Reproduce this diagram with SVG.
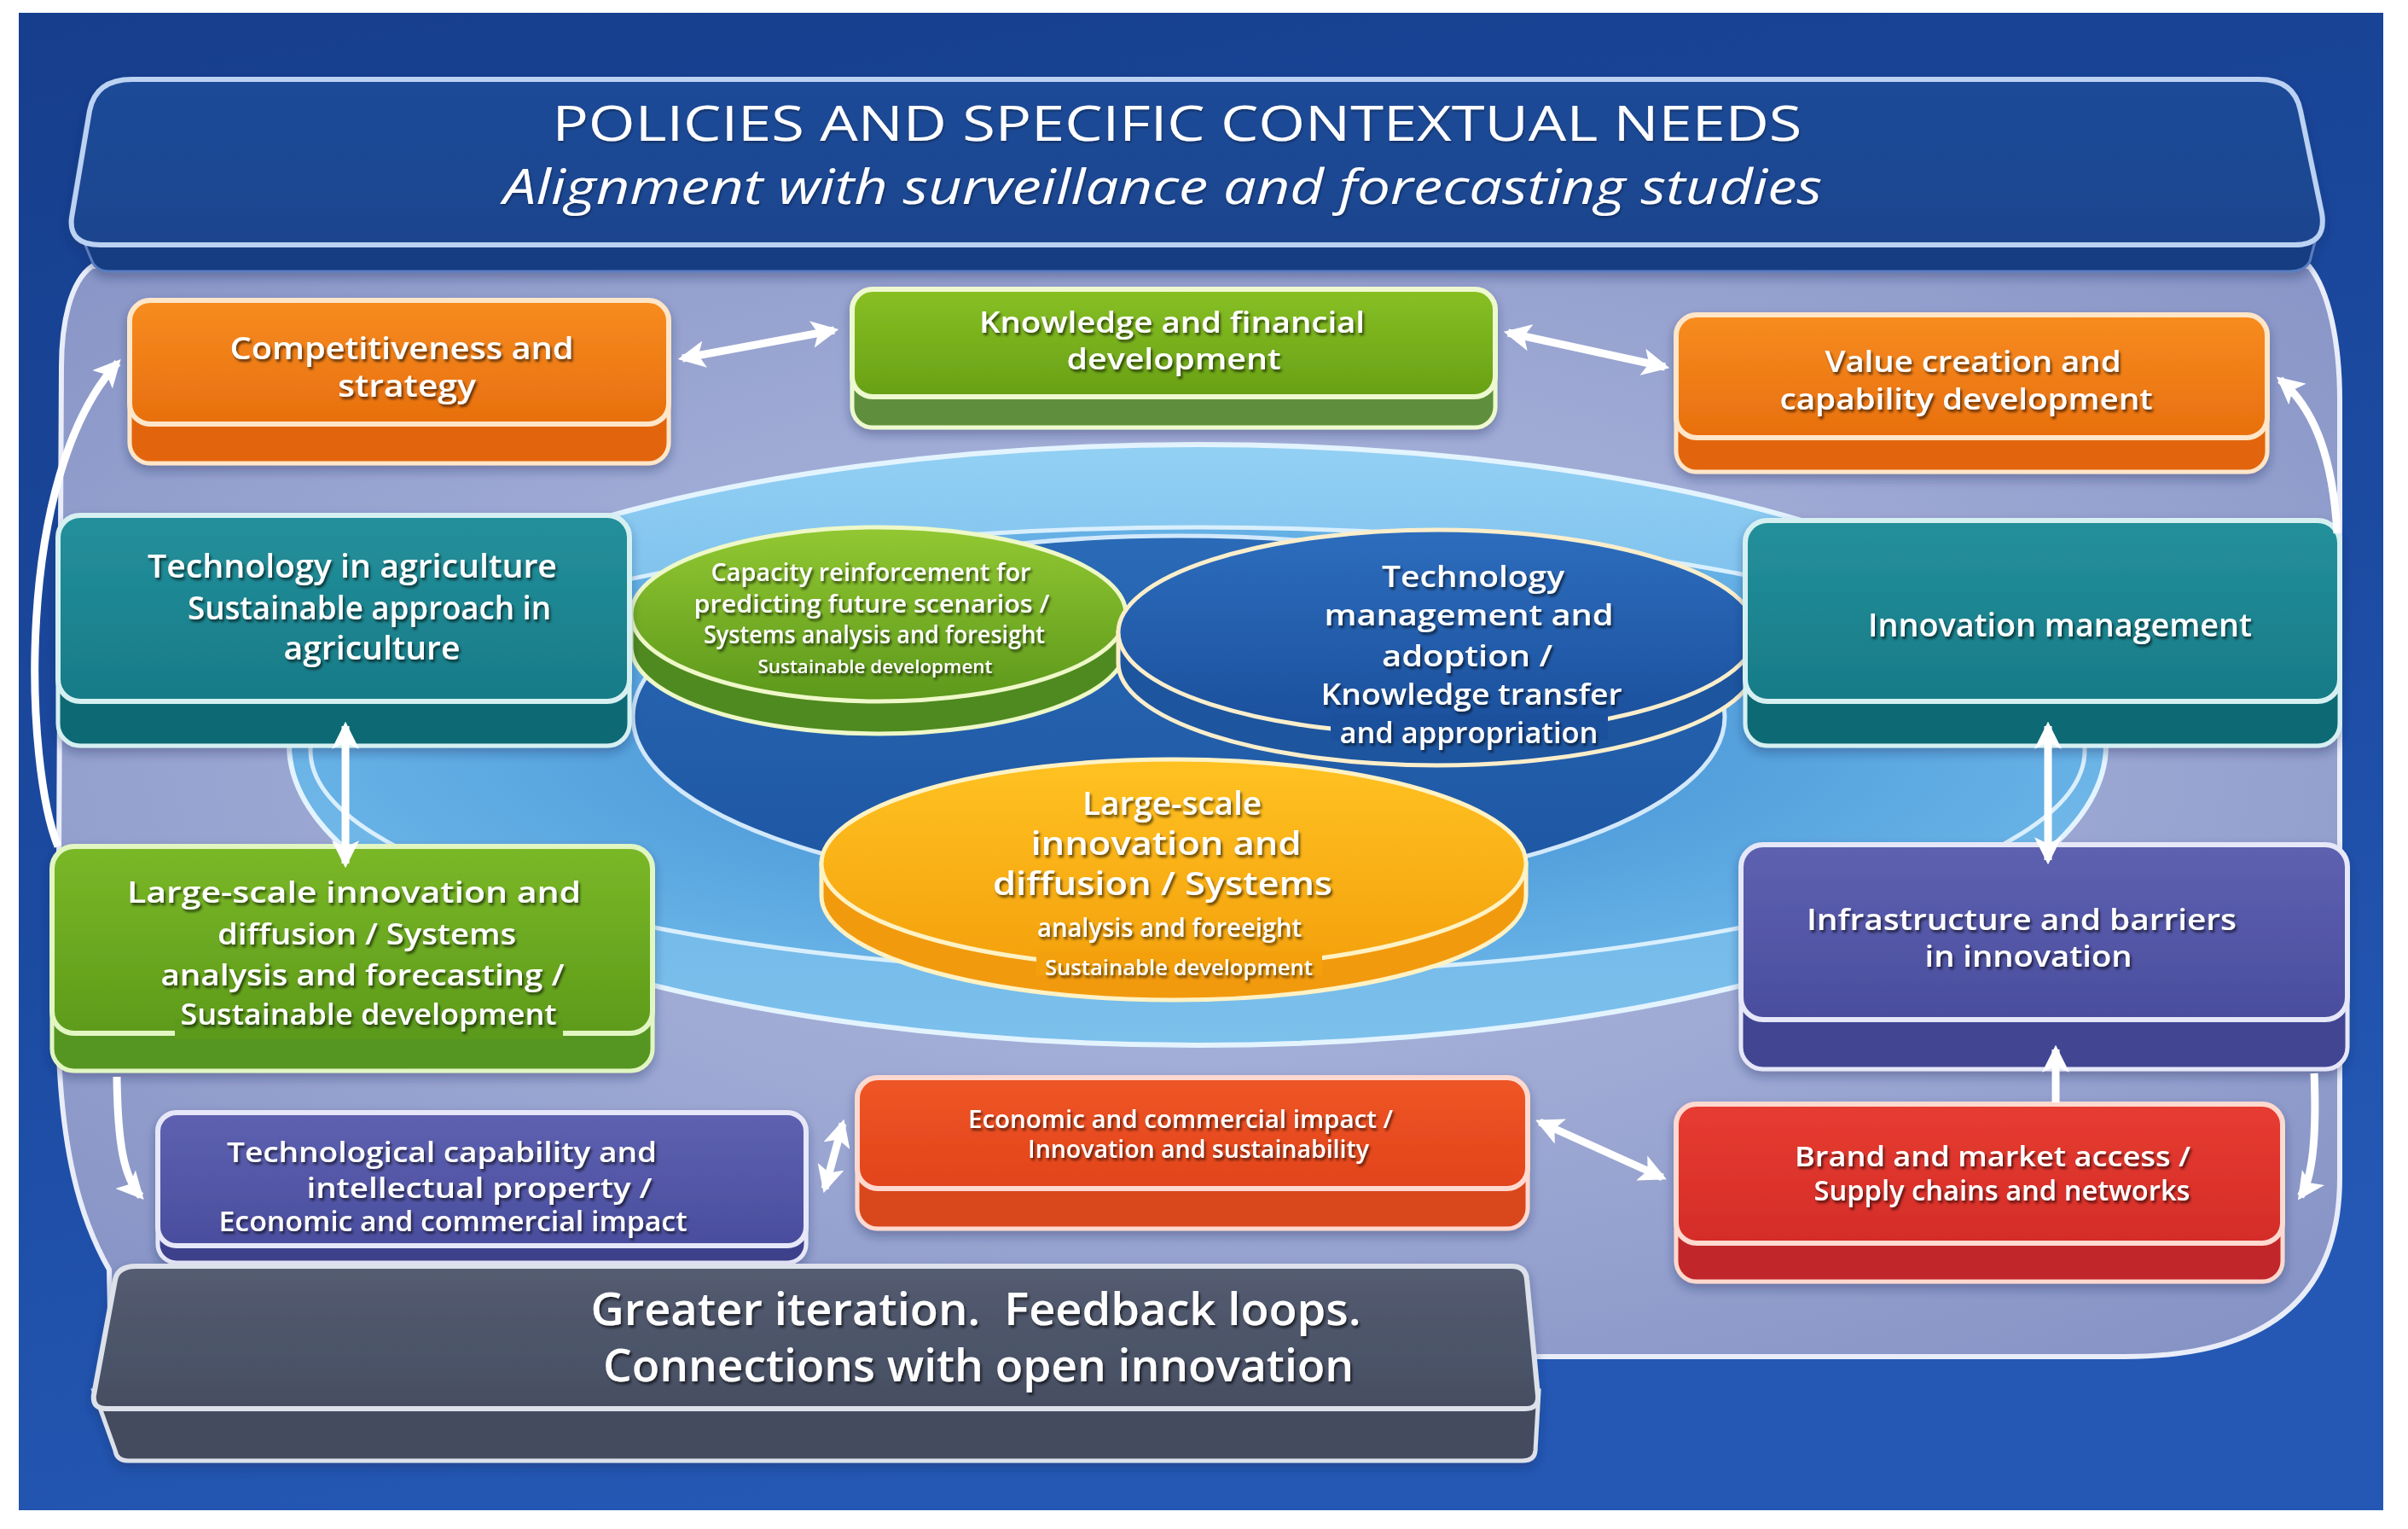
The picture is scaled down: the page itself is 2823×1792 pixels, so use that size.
<svg xmlns="http://www.w3.org/2000/svg" width="2823" height="1792" viewBox="0 0 2823 1792">
<defs>
<style>
.t{font-family:"Open Sans","Noto Sans","Liberation Sans",sans-serif;font-weight:600;fill:#ffffff;text-anchor:middle;filter:url(#ts);}
.th{font-family:"Open Sans","Noto Sans","Liberation Sans",sans-serif;font-weight:400;fill:#ffffff;text-anchor:middle;filter:url(#tsl);}
.arrow{fill:none;stroke:#ffffff;stroke-width:9;stroke-linecap:butt;}
</style>
<filter id="ts" x="-5%" y="-30%" width="110%" height="170%"><feDropShadow dx="2" dy="3" stdDeviation="1.6" flood-color="#000000" flood-opacity="0.6"/></filter>
<filter id="tsl" x="-5%" y="-30%" width="110%" height="170%"><feDropShadow dx="1" dy="2" stdDeviation="1.5" flood-color="#000000" flood-opacity="0.35"/></filter>
<filter id="bs" x="-10%" y="-10%" width="120%" height="130%"><feDropShadow dx="0" dy="6" stdDeviation="6" flood-color="#1b2a5a" flood-opacity="0.35"/></filter>
<marker id="ah" viewBox="0 0 30 30" refX="25" refY="15" markerWidth="32" markerHeight="32" markerUnits="userSpaceOnUse" orient="auto-start-reverse"><path d="M0,0 L30,15 L0,30 L7,15 z" fill="#ffffff"/></marker>
<linearGradient id="bgG" x1="0" y1="0" x2="0.3" y2="1"><stop offset="0" stop-color="#163e8c"/><stop offset="0.6" stop-color="#1c4ba2"/><stop offset="1" stop-color="#2458b4"/></linearGradient>
<radialGradient id="panelG" cx="0.5" cy="0.45" r="0.7"><stop offset="0" stop-color="#b5bee2"/><stop offset="1" stop-color="#8693c5"/></radialGradient>
<linearGradient id="e1G" x1="0" y1="0" x2="0" y2="1"><stop offset="0" stop-color="#93d0f4"/><stop offset="0.5" stop-color="#6ab3e6"/><stop offset="1" stop-color="#7cc0ec"/></linearGradient>
<radialGradient id="e2G" cx="0.5" cy="0.5" r="0.55"><stop offset="0" stop-color="#3a88cf"/><stop offset="1" stop-color="#6ab5e8"/></radialGradient>
<linearGradient id="e3G" x1="0" y1="0" x2="0" y2="1"><stop offset="0" stop-color="#2a6ab6"/><stop offset="1" stop-color="#1d55a2"/></linearGradient>
<linearGradient id="hdG" x1="0" y1="0" x2="0" y2="1"><stop offset="0" stop-color="#1e4b98"/><stop offset="1" stop-color="#1a448e"/></linearGradient>
<linearGradient id="orG" x1="0" y1="0" x2="0" y2="1"><stop offset="0" stop-color="#f78c20"/><stop offset="1" stop-color="#e86f0e"/></linearGradient>
<linearGradient id="grG" x1="0" y1="0" x2="0" y2="1"><stop offset="0" stop-color="#88c024"/><stop offset="1" stop-color="#68a016"/></linearGradient>
<linearGradient id="tlG" x1="0" y1="0" x2="0" y2="1"><stop offset="0" stop-color="#23909b"/><stop offset="1" stop-color="#177b87"/></linearGradient>
<linearGradient id="g2G" x1="0" y1="0" x2="0" y2="1"><stop offset="0" stop-color="#7ab827"/><stop offset="1" stop-color="#5e9b1b"/></linearGradient>
<linearGradient id="puG" x1="0" y1="0" x2="0" y2="1"><stop offset="0" stop-color="#5e61b0"/><stop offset="1" stop-color="#4a4d9e"/></linearGradient>
<linearGradient id="roG" x1="0" y1="0" x2="0" y2="1"><stop offset="0" stop-color="#ef5626"/><stop offset="1" stop-color="#e2431a"/></linearGradient>
<linearGradient id="rdG" x1="0" y1="0" x2="0" y2="1"><stop offset="0" stop-color="#e73c31"/><stop offset="1" stop-color="#d42c28"/></linearGradient>
<linearGradient id="gyG" x1="0" y1="0" x2="0" y2="1"><stop offset="0" stop-color="#545c71"/><stop offset="1" stop-color="#464e62"/></linearGradient>
<linearGradient id="dgG" x1="0" y1="0" x2="0" y2="1"><stop offset="0" stop-color="#92c832"/><stop offset="1" stop-color="#5c981b"/></linearGradient>
<linearGradient id="dbG" x1="0" y1="0" x2="0" y2="1"><stop offset="0" stop-color="#2d6dbd"/><stop offset="1" stop-color="#1a4f9c"/></linearGradient>
<linearGradient id="doG" x1="0" y1="0" x2="0" y2="1"><stop offset="0" stop-color="#ffc222"/><stop offset="1" stop-color="#f4a10c"/></linearGradient>
</defs>

<rect width="2823" height="1792" fill="#ffffff"/>
<rect x="22" y="15" width="2772" height="1755" fill="url(#bgG)"/>

<g id="panel">
<path d="M108,312 C82,330 72,380 72,430 L68,1200 C70,1350 95,1430 128,1488 L130,1590 L2490,1590 Q2743,1590 2743,1380 L2743,470 C2743,400 2730,340 2707,312 Z" fill="url(#panelG)" stroke="#e9edf9" stroke-width="6"/>
</g>

<g id="rings">
<ellipse cx="1404" cy="873" rx="1065" ry="352" fill="url(#e1G)" stroke="#e3f4ff" stroke-width="6"/>
<ellipse cx="1404" cy="880" rx="1040" ry="262" fill="url(#e2G)" stroke="#d9effd" stroke-width="5"/>
<ellipse cx="1382" cy="840" rx="640" ry="212" fill="url(#e3G)" stroke="#d2e8fb" stroke-width="5"/>
</g>

<g id="header" filter="url(#bs)">
<path d="M92,268 L2718,268 L2708,306 Q2702,318 2684,318 L128,318 Q112,318 107,304 Z" fill="#163d82" stroke="#5a7cc0" stroke-width="3"/>
<path d="M155,93 L2648,93 Q2690,93 2697,130 L2722,250 Q2728,287 2690,287 L118,287 Q80,287 84,255 L105,130 Q112,93 155,93 Z" fill="url(#hdG)" stroke="#bcd2f3" stroke-width="6"/>
<text class="th" x="1380" y="165" font-size="57" textLength="1465" lengthAdjust="spacingAndGlyphs">POLICIES AND SPECIFIC CONTEXTUAL NEEDS</text>
<text class="th" x="1363" y="239" font-size="57" font-style="italic" font-weight="600" textLength="1546" lengthAdjust="spacingAndGlyphs">Alignment with surveillance and forecasting studies</text>
</g>

<g id="disk-capacity">
<path d="M740,720 L740,758 A290,102 0 0 0 1320,758 L1320,720 Z" fill="#4f8a20" stroke="#eef8c8" stroke-width="5"/>
<ellipse cx="1030" cy="720" rx="290" ry="102" fill="url(#dgG)" stroke="#eef8c8" stroke-width="5"/>
<text class="t" x="1021" y="681" font-size="28" textLength="375" lengthAdjust="spacingAndGlyphs">Capacity reinforcement for</text>
<text class="t" x="1022" y="718" font-size="28" textLength="417" lengthAdjust="spacingAndGlyphs">predicting future scenarios /</text>
<text class="t" x="1025" y="754" font-size="28" textLength="400" lengthAdjust="spacingAndGlyphs">Systems analysis and foresight</text>
<text class="t" x="1026" y="789" font-size="21" textLength="275" lengthAdjust="spacingAndGlyphs">Sustainable development</text>
</g>

<g id="disk-technology">
<path d="M1311,741 L1311,777 A374,120 0 0 0 2059,777 L2059,741 Z" fill="#1d559f" stroke="#fbeecb" stroke-width="5"/>
<ellipse cx="1685" cy="741" rx="374" ry="120" fill="url(#dbG)" stroke="#fbeecb" stroke-width="5"/>
<rect x="1560" y="838" width="325" height="30" fill="#1b509d"/>
<text class="t" x="1727" y="688" font-size="34" textLength="214" lengthAdjust="spacingAndGlyphs">Technology</text>
<text class="t" x="1722" y="733" font-size="34" textLength="339" lengthAdjust="spacingAndGlyphs">management and</text>
<text class="t" x="1720" y="781" font-size="34" textLength="200" lengthAdjust="spacingAndGlyphs">adoption /</text>
<text class="t" x="1725" y="826" font-size="34" textLength="353" lengthAdjust="spacingAndGlyphs">Knowledge transfer</text>
<text class="t" x="1722" y="871" font-size="34" textLength="303" lengthAdjust="spacingAndGlyphs">and appropriation</text>
</g>

<g id="disk-largescale">
<path d="M963,1012 L963,1050 A413,122 0 0 0 1789,1050 L1789,1012 Z" fill="#f29a0e" stroke="#fff2c4" stroke-width="5"/>
<ellipse cx="1376" cy="1012" rx="413" ry="122" fill="url(#doG)" stroke="#fff2c4" stroke-width="5"/>
<rect x="1215" y="1115" width="335" height="28" fill="#f3a00c"/>
<text class="t" x="1374" y="955" font-size="38" textLength="210" lengthAdjust="spacingAndGlyphs">Large-scale</text>
<text class="t" x="1367" y="1002" font-size="38" textLength="317" lengthAdjust="spacingAndGlyphs">innovation and</text>
<text class="t" x="1363" y="1049" font-size="38" textLength="398" lengthAdjust="spacingAndGlyphs">diffusion / Systems</text>
<text class="t" x="1371" y="1098" font-size="30" textLength="310" lengthAdjust="spacingAndGlyphs">analysis and foreeight</text>
<text class="t" x="1382" y="1143" font-size="26" textLength="314" lengthAdjust="spacingAndGlyphs">Sustainable development</text>
</g>

<g id="n-competitiveness" filter="url(#bs)">
<rect x="152" y="390" width="632" height="153" rx="24" fill="#e2650d" stroke="#ffe6c8" stroke-width="5"/>
<rect x="152" y="352" width="632" height="145" rx="24" fill="url(#orG)" stroke="#ffe6c8" stroke-width="6"/>
<text class="t" x="471" y="421" font-size="36" textLength="403" lengthAdjust="spacingAndGlyphs">Competitiveness and</text>
<text class="t" x="477" y="465" font-size="36" textLength="162" lengthAdjust="spacingAndGlyphs">strategy</text>
</g>

<g id="n-knowledge" filter="url(#bs)">
<rect x="999" y="380" width="754" height="121" rx="24" fill="#5f8f3c" stroke="#eef9cf" stroke-width="5"/>
<rect x="999" y="339" width="754" height="126" rx="24" fill="url(#grG)" stroke="#eef9cf" stroke-width="6"/>
<text class="t" x="1374" y="390" font-size="35" textLength="452" lengthAdjust="spacingAndGlyphs">Knowledge and financial</text>
<text class="t" x="1376" y="433" font-size="35" textLength="251" lengthAdjust="spacingAndGlyphs">development</text>
</g>

<g id="n-value" filter="url(#bs)">
<rect x="1965" y="410" width="693" height="143" rx="24" fill="#e2650d" stroke="#ffe6c8" stroke-width="5"/>
<rect x="1965" y="369" width="693" height="144" rx="24" fill="url(#orG)" stroke="#ffe6c8" stroke-width="6"/>
<text class="t" x="2313" y="436" font-size="35" textLength="347" lengthAdjust="spacingAndGlyphs">Value creation and</text>
<text class="t" x="2305" y="480" font-size="35" textLength="437" lengthAdjust="spacingAndGlyphs">capability development</text>
</g>

<g id="n-techagri" filter="url(#bs)">
<rect x="68" y="680" width="670" height="194" rx="26" fill="#116a74" stroke="#d6f0f2" stroke-width="5"/>
<rect x="68" y="604" width="670" height="218" rx="26" fill="url(#tlG)" stroke="#d6f0f2" stroke-width="6"/>
<text class="t" x="413" y="677" font-size="37" textLength="480" lengthAdjust="spacingAndGlyphs">Technology in agriculture</text>
<text class="t" x="433" y="726" font-size="37" textLength="426" lengthAdjust="spacingAndGlyphs">Sustainable approach in</text>
<text class="t" x="436" y="773" font-size="37" textLength="207" lengthAdjust="spacingAndGlyphs">agriculture</text>
</g>

<g id="n-innovation" filter="url(#bs)">
<rect x="2046" y="680" width="697" height="194" rx="26" fill="#116a74" stroke="#d6f0f2" stroke-width="5"/>
<rect x="2046" y="610" width="697" height="212" rx="26" fill="url(#tlG)" stroke="#d6f0f2" stroke-width="6"/>
<text class="t" x="2415" y="746" font-size="37" textLength="450" lengthAdjust="spacingAndGlyphs">Innovation management</text>
</g>

<g id="n-largescale" filter="url(#bs)">
<rect x="61" y="1080" width="704" height="175" rx="26" fill="#559522" stroke="#e2f6c2" stroke-width="5"/>
<rect x="61" y="992" width="704" height="219" rx="26" fill="url(#g2G)" stroke="#e2f6c2" stroke-width="6"/>
<rect x="205" y="1194" width="455" height="24" fill="#5b9a1d"/>
<text class="t" x="415" y="1058" font-size="35" textLength="532" lengthAdjust="spacingAndGlyphs">Large-scale innovation and</text>
<text class="t" x="430" y="1107" font-size="35" textLength="350" lengthAdjust="spacingAndGlyphs">diffusion / Systems</text>
<text class="t" x="425" y="1155" font-size="35" textLength="473" lengthAdjust="spacingAndGlyphs">analysis and forecasting /</text>
<text class="t" x="432" y="1201" font-size="35" textLength="441" lengthAdjust="spacingAndGlyphs">Sustainable development</text>
</g>

<g id="n-infrastructure" filter="url(#bs)">
<rect x="2041" y="1070" width="711" height="183" rx="26" fill="#424592" stroke="#e6e7f8" stroke-width="5"/>
<rect x="2041" y="990" width="711" height="205" rx="26" fill="url(#puG)" stroke="#e6e7f8" stroke-width="6"/>
<text class="t" x="2370" y="1090" font-size="34" textLength="504" lengthAdjust="spacingAndGlyphs">Infrastructure and barriers</text>
<text class="t" x="2378" y="1133" font-size="34" textLength="243" lengthAdjust="spacingAndGlyphs">in innovation</text>
</g>

<g id="n-techcapability" filter="url(#bs)">
<rect x="185" y="1380" width="760" height="100" rx="22" fill="#3c3f8a" stroke="#e6e7f8" stroke-width="5"/>
<rect x="185" y="1304" width="760" height="156" rx="22" fill="url(#puG)" stroke="#e6e7f8" stroke-width="6"/>
<text class="t" x="518" y="1362" font-size="33" textLength="504" lengthAdjust="spacingAndGlyphs">Technological capability and</text>
<text class="t" x="562" y="1404" font-size="33" textLength="405" lengthAdjust="spacingAndGlyphs">intellectual property /</text>
<text class="t" x="531" y="1443" font-size="32" textLength="549" lengthAdjust="spacingAndGlyphs">Economic and commercial impact</text>
</g>

<g id="n-economic" filter="url(#bs)">
<rect x="1005" y="1330" width="786" height="110" rx="24" fill="#d9471d" stroke="#ffd9cf" stroke-width="5"/>
<rect x="1005" y="1263" width="786" height="130" rx="24" fill="url(#roG)" stroke="#ffd9cf" stroke-width="6"/>
<text class="t" x="1384" y="1322" font-size="29" textLength="498" lengthAdjust="spacingAndGlyphs">Economic and commercial impact /</text>
<text class="t" x="1405" y="1357" font-size="29" textLength="400" lengthAdjust="spacingAndGlyphs">Innovation and sustainability</text>
</g>

<g id="n-brand" filter="url(#bs)">
<rect x="1965" y="1370" width="711" height="132" rx="24" fill="#c1262a" stroke="#ffd9cf" stroke-width="5"/>
<rect x="1965" y="1294" width="711" height="163" rx="24" fill="url(#rdG)" stroke="#ffd9cf" stroke-width="6"/>
<text class="t" x="2336" y="1367" font-size="32" textLength="464" lengthAdjust="spacingAndGlyphs">Brand and market access /</text>
<text class="t" x="2347" y="1407" font-size="32" textLength="441" lengthAdjust="spacingAndGlyphs">Supply chains and networks</text>
</g>

<g id="n-iteration" filter="url(#bs)">
<path d="M110,1630 L1804,1630 L1800,1700 Q1799,1712 1785,1712 L150,1712 Q137,1712 135,1700 Z" fill="#454c5f" stroke="#dde1ea" stroke-width="5"/>
<path d="M160,1484 L1772,1484 Q1789,1484 1790,1500 L1803,1636 Q1804,1651 1788,1651 L125,1651 Q108,1651 110,1635 L135,1500 Q138,1484 160,1484 Z" fill="url(#gyG)" stroke="#dde1ea" stroke-width="6"/>
<text class="t" x="1144" y="1553" font-size="52" textLength="903" lengthAdjust="spacingAndGlyphs" xml:space="preserve">Greater iteration.  Feedback loops.</text>
<text class="t" x="1147" y="1619" font-size="52" textLength="880" lengthAdjust="spacingAndGlyphs">Connections with open innovation</text>
</g>

<g id="connectors">
<path class="arrow" d="M800,420 L978,387" marker-start="url(#ah)" marker-end="url(#ah)"/>
<path class="arrow" d="M1768,390 L1952,430" marker-start="url(#ah)" marker-end="url(#ah)"/>
<path class="arrow" d="M405,851 L405,1012" marker-start="url(#ah)" marker-end="url(#ah)"/>
<path class="arrow" d="M2401,851 L2401,1008" marker-start="url(#ah)" marker-end="url(#ah)"/>
<path class="arrow" d="M967,1393 L988,1317" marker-start="url(#ah)" marker-end="url(#ah)"/>
<path class="arrow" d="M1805,1315 L1949,1380" marker-start="url(#ah)" marker-end="url(#ah)"/>
<path class="arrow" d="M2410,1292 L2410,1230" marker-end="url(#ah)"/>
<path class="arrow" d="M68,992 C30,900 15,560 138,425" marker-end="url(#ah)"/>
<path class="arrow" d="M2740,625 C2735,540 2715,480 2673,445" marker-end="url(#ah)"/>
<path class="arrow" d="M137,1262 C138,1340 145,1380 165,1402" marker-end="url(#ah)"/>
<path class="arrow" d="M2713,1258 C2716,1330 2712,1380 2697,1402" marker-end="url(#ah)"/>
</g>
</svg>
